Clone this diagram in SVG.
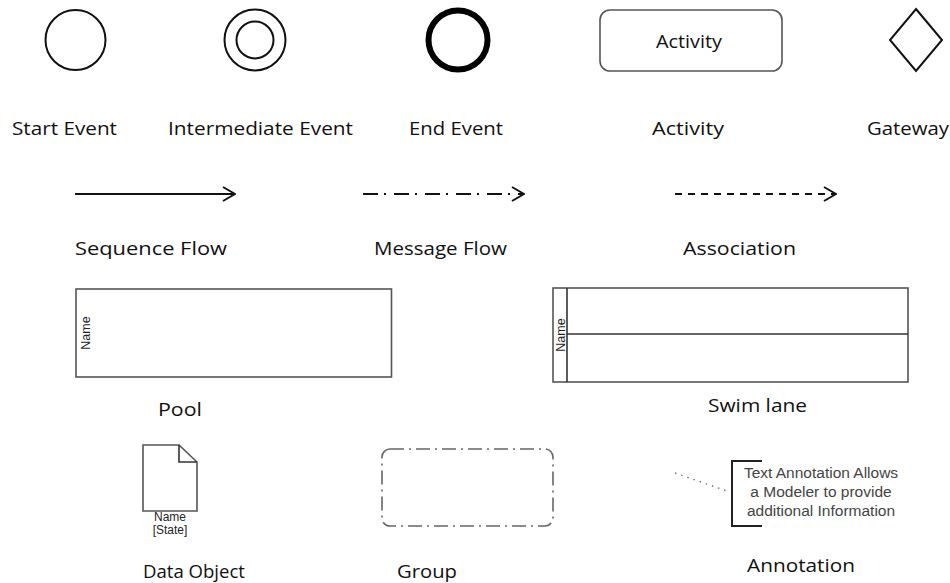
<svg xmlns="http://www.w3.org/2000/svg" width="950" height="583" viewBox="0 0 950 583">
<defs>
<style>
.lbl{font-family:"Open Sans","Liberation Sans",sans-serif;font-size:19px;fill:#111}
.sm{font-family:"Liberation Sans",Arial,sans-serif;fill:#222}
.shape{fill:none;stroke:#111;stroke-width:2}
.box{fill:#fff;stroke:#555;stroke-width:1.6}
</style>
<marker id="open" viewBox="0 0 14 16" refX="13" refY="8" markerWidth="14" markerHeight="16" markerUnits="userSpaceOnUse" orient="auto">
<path d="M1,1 L13,8 L1,15" fill="none" stroke="#111" stroke-width="2"/>
</marker>
</defs>
<rect width="950" height="583" fill="#fff"/>

<g id="start-event">
<circle cx="75.5" cy="40" r="30" class="shape"/>
<text class="lbl" x="12" y="135" textLength="105" lengthAdjust="spacingAndGlyphs">Start Event</text>
</g>
<g id="intermediate-event">
<circle cx="255" cy="40" r="30.5" class="shape"/>
<circle cx="255" cy="40" r="18.5" class="shape"/>
<text class="lbl" x="168" y="135" textLength="185" lengthAdjust="spacingAndGlyphs">Intermediate Event</text>
</g>
<g id="end-event">
<circle cx="458" cy="40" r="29.5" fill="none" stroke="#000" stroke-width="6"/>
<text class="lbl" x="409" y="135" textLength="94" lengthAdjust="spacingAndGlyphs">End Event</text>
</g>
<g id="activity">
<rect x="600" y="10" width="182" height="61" rx="10" class="box" stroke="#333"/>
<text class="lbl" x="689" y="48" text-anchor="middle" textLength="66" lengthAdjust="spacingAndGlyphs">Activity</text>
<text class="lbl" x="652" y="135" textLength="72" lengthAdjust="spacingAndGlyphs">Activity</text>
</g>
<g id="gateway">
<polygon points="916,9 942,40 916,71 890,40" class="shape" stroke-width="1.6"/>
<text class="lbl" x="867" y="135" textLength="82" lengthAdjust="spacingAndGlyphs">Gateway</text>
</g>

<g id="connectors">
<line x1="75" y1="194" x2="235" y2="194" stroke="#111" stroke-width="2" marker-end="url(#open)"/>
<line x1="363" y1="194" x2="524" y2="194" stroke="#111" stroke-width="2" stroke-dasharray="15 6 2 8" marker-end="url(#open)"/>
<line x1="675" y1="194" x2="836" y2="194" stroke="#111" stroke-width="2" stroke-dasharray="7 6" marker-end="url(#open)"/>
<line x1="675" y1="473" x2="730" y2="492" stroke="#777" stroke-width="1.5" stroke-dasharray="1.5 5"/>
</g>

<g id="sequence-flow">
<text class="lbl" x="75" y="255" textLength="152" lengthAdjust="spacingAndGlyphs">Sequence Flow</text>
</g>
<g id="message-flow">
<text class="lbl" x="374" y="255" textLength="133" lengthAdjust="spacingAndGlyphs">Message Flow</text>
</g>
<g id="association">
<text class="lbl" x="683" y="255" textLength="113" lengthAdjust="spacingAndGlyphs">Association</text>
</g>

<g id="pool">
<rect x="76" y="289" width="315.5" height="88" class="box"/>
<text class="sm" font-size="12.5" transform="translate(89.5,333) rotate(-90)" text-anchor="middle">Name</text>
<text class="lbl" x="158" y="416" textLength="44" lengthAdjust="spacingAndGlyphs">Pool</text>
</g>

<g id="swim-lane">
<rect x="553" y="288" width="355" height="94" class="box" stroke="#333"/>
<line x1="567" y1="288" x2="567" y2="382" stroke="#333" stroke-width="1.6"/>
<line x1="567" y1="334" x2="908" y2="334" stroke="#333" stroke-width="1.6"/>
<text class="sm" font-size="12.5" transform="translate(564.5,335) rotate(-90)" text-anchor="middle">Name</text>
<text class="lbl" x="708" y="412" textLength="99" lengthAdjust="spacingAndGlyphs">Swim lane</text>
</g>

<g id="data-object">
<path d="M143,445 H179 L197,462 V511 H143 Z" class="box" stroke="#333"/>
<path d="M179,445 V462 H197" fill="none" stroke="#333" stroke-width="1.6"/>
<text class="sm" font-size="12" x="170" y="521" text-anchor="middle">Name</text>
<text class="sm" font-size="12" x="170" y="534" text-anchor="middle">[State]</text>
<text class="lbl" x="143" y="578" textLength="102" lengthAdjust="spacingAndGlyphs">Data Object</text>
</g>

<g id="group">
<rect x="382" y="449" width="171" height="77" rx="8" fill="none" stroke="#666" stroke-width="1.6" stroke-dasharray="14 5 2 5"/>
<text class="lbl" x="397" y="578" textLength="60" lengthAdjust="spacingAndGlyphs">Group</text>
</g>

<g id="annotation">
<path d="M762,461 H732 V526 H762" fill="none" stroke="#222" stroke-width="2"/>
<text class="sm" font-size="15.5" x="821" y="478" text-anchor="middle" style="fill:#444">Text Annotation Allows</text>
<text class="sm" font-size="15.5" x="821" y="497" text-anchor="middle" style="fill:#444">a Modeler to provide</text>
<text class="sm" font-size="15.5" x="821" y="516" text-anchor="middle" style="fill:#444">additional Information</text>
<text class="lbl" x="747" y="572" textLength="108" lengthAdjust="spacingAndGlyphs">Annotation</text>
</g>
</svg>
